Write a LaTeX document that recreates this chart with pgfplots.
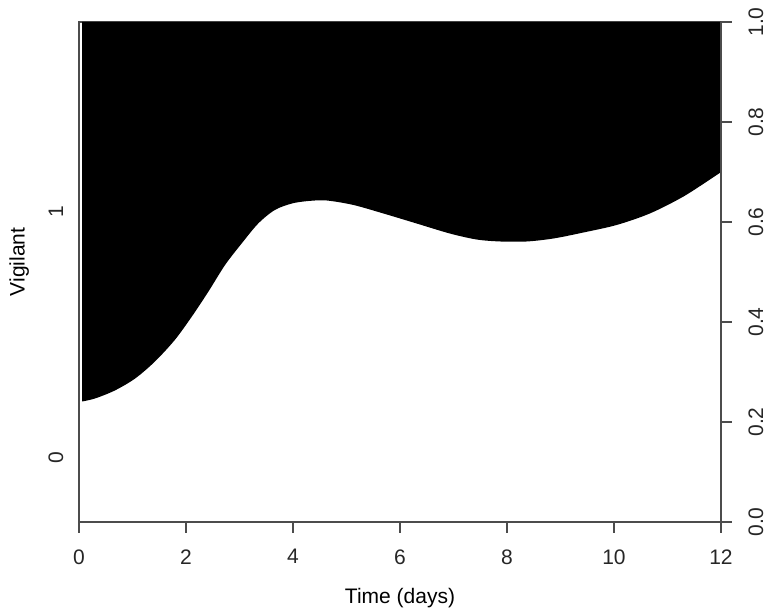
\documentclass[border=0pt]{standalone}
\usepackage{pgfplots}
\pgfplotsset{compat=1.18}
\usepgfplotslibrary{fillbetween}
\usepackage{fontspec}
\setmainfont{Liberation Sans}

\begin{document}
\begin{tikzpicture}[font=\fontsize{10.5}{12}\selectfont]
\pgfplotsset{
    every axis/.append style={
        scale only axis, width=321pt, height=250pt,
        xmin=0, xmax=12, ymin=0, ymax=1,
        axis line style={draw=black!70, line width=0.7pt},
        tick style={draw=black!70, line width=0.7pt},
        tick align=outside, major tick length=5.5pt,
        /pgf/number format/assume math mode=true,
        tick label style={text=black!85, inner sep=0pt},
    }
}
% main axis: density fill, bottom ticks, left factor labels
\begin{axis}[
    xtick={0,2,...,12}, xtick pos=bottom,
    xticklabel style={anchor=north, yshift=-8pt},
    ytick={0.128,0.62}, yticklabels={0,1},
    ytick style={draw=none},
    yticklabel style={xshift=-2.5pt, rotate=90, anchor=base},
    xlabel={Time (days)},
    xlabel style={at={(axis description cs:0.5,0)}, anchor=north, yshift=-33pt, inner sep=0pt},
    ylabel={Vigilant},
    ylabel style={at={([xshift=-35pt]axis description cs:0,0.52)}, anchor=north, inner sep=0pt},
]
\addplot[name path=curve, draw=none, smooth] coordinates {
    (0.06,0.241) (0.30,0.247) (0.67,0.263) (1.05,0.287) (1.42,0.321)
    (1.79,0.364) (2.11,0.411) (2.42,0.461) (2.73,0.514) (3.04,0.557)
    (3.35,0.597) (3.66,0.624) (3.98,0.637) (4.29,0.642) (4.63,0.643)
    (5.13,0.634) (5.69,0.617) (6.31,0.597) (6.93,0.577) (7.43,0.565)
    (7.87,0.561) (8.37,0.561) (8.87,0.567) (9.43,0.579) (10.05,0.594)
    (10.67,0.617) (11.30,0.651) (11.92,0.694) (12,0.700)
};
\addplot[name path=top, draw=none] coordinates {(0.06,1) (12,1)};
\addplot[black] fill between[of=curve and top];
\coordinate (bl) at (rel axis cs:-0.1231,-0.188);
\coordinate (tr) at (rel axis cs:1.0826,1.044);
\end{axis}
% right probability axis
\begin{axis}[
    axis x line=none, axis y line*=right,
    ytick={0,0.2,...,1}, ytick pos=right,
    yticklabel style={xshift=8pt, rotate=90, anchor=north,
        /pgf/number format/.cd, fixed, fixed zerofill, precision=1},
]
\end{axis}
\pgfresetboundingbox
\useasboundingbox (bl) rectangle (tr);
\end{tikzpicture}
\end{document}
